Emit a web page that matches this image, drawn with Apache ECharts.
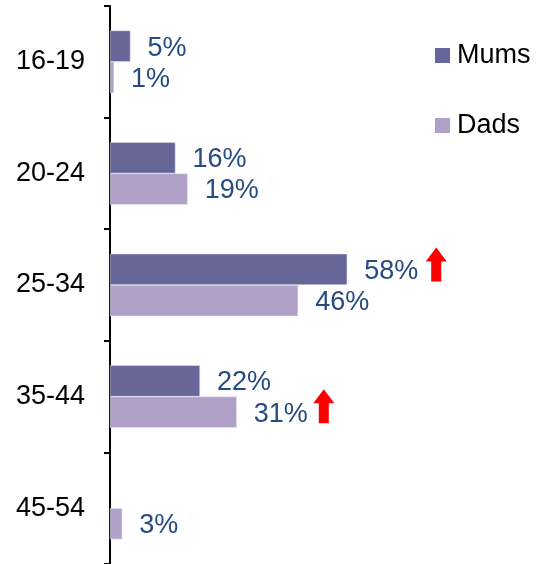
<!DOCTYPE html>
<html>
<head>
<meta charset="utf-8">
<script src="https://cdn.jsdelivr.net/npm/echarts@6/dist/echarts.min.js"></script>
<style>
  html, body { margin: 0; padding: 0; background: #fff; }
  #chart { width: 537px; height: 564px; }
</style>
</head>
<body>
<div id="chart"></div>
<script>
// Age bands, top to bottom
const ageGroups = ['16-19', '20-24', '25-34', '35-44', '45-54'];
// Share of parents in each age band (%)
const mums = [5, 16, 58, 22, null];
const dads = [1, 19, 46, 31, 3];
// Bands with a notable rise, marked with an up arrow
const mumsRising = ['25-34'];
const dadsRising = ['35-44'];

const FONT = '"Liberation Sans", Arial, sans-serif';
const LABEL_BLUE = '#264b82';
const ARROW_PATH = 'path://M10.5,0 L21,14 L15.5,14 L15.5,34 L5.5,34 L5.5,14 L0,14 Z';

function arrowMarks(values, rising, offset) {
  return rising.map(cat => ({
    coord: [values[ageGroups.indexOf(cat)], cat],
    symbolOffset: offset
  }));
}

function valueLabel() {
  return {
    show: true,
    position: 'right',
    distance: 17,
    offset: [0, 2],
    fontSize: 27,
    color: LABEL_BLUE,
    fontFamily: FONT,
    formatter: p => p.value + '%'
  };
}

const chart = echarts.init(document.getElementById('chart'));
chart.setOption({
  animation: false,
  textStyle: { fontFamily: FONT },
  grid: { left: 110, top: 6, width: 409, bottom: -2 },
  legend: {
    orient: 'vertical',
    left: 435,
    top: 42,
    padding: 0,
    itemWidth: 15,
    itemHeight: 15,
    itemGap: 43,
    icon: 'rect',
    itemStyle: { borderWidth: 0 },
    textStyle: { fontSize: 27, color: '#000', fontFamily: FONT, padding: [0, 0, 0, 2] },
    data: ['Mums', 'Dads']
  },
  xAxis: {
    type: 'value',
    min: 0,
    max: 100,
    show: false,
    splitLine: { show: false }
  },
  yAxis: {
    type: 'category',
    data: ageGroups,
    inverse: true,
    axisLine: { show: true, lineStyle: { color: '#000', width: 2 } },
    axisTick: { show: true, length: 6, lineStyle: { color: '#000', width: 2 } },
    axisLabel: { fontSize: 27, color: '#000', margin: 25, fontFamily: FONT }
  },
  series: [
    {
      name: 'Mums',
      type: 'bar',
      data: mums,
      barGap: '0%',
      barCategoryGap: '44%',
      itemStyle: { color: '#666699', borderColor: '#e6e6f0', borderWidth: 0.5 },
      label: valueLabel(),
      markPoint: {
        symbol: ARROW_PATH,
        symbolSize: [21, 34],
        itemStyle: { color: '#ff0000' },
        label: { show: false },
        data: arrowMarks(mums, mumsRising, [89, -5])
      }
    },
    {
      name: 'Dads',
      type: 'bar',
      data: dads,
      itemStyle: { color: '#b1a0c7', borderColor: '#eee8f4', borderWidth: 0.5 },
      label: valueLabel(),
      markPoint: {
        symbol: ARROW_PATH,
        symbolSize: [21, 34],
        itemStyle: { color: '#ff0000' },
        label: { show: false },
        data: arrowMarks(dads, dadsRising, [87, -6])
      }
    }
  ]
});
</script>
</body>
</html>
